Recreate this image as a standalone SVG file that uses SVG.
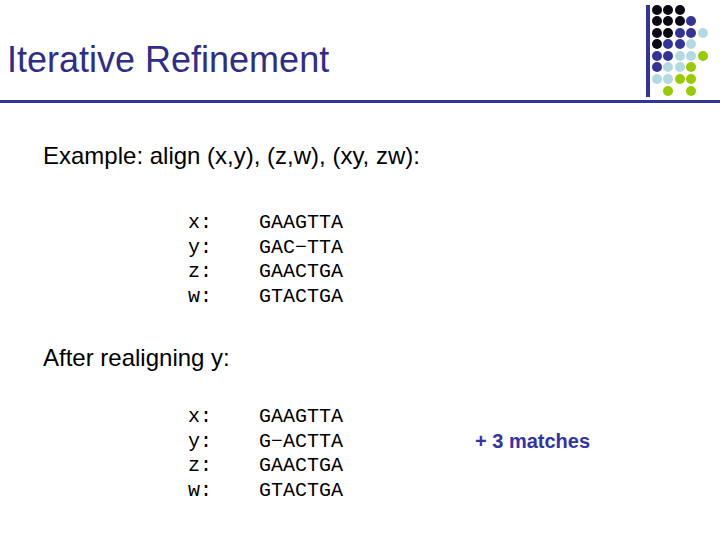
<svg xmlns="http://www.w3.org/2000/svg" width="720" height="540" viewBox="0 0 720 540">
<style>
.k{fill:#0a0a14}.n{fill:#333399}.l{fill:#b3d9e3}.g{fill:#99cc00}
.s{font-family:"Liberation Sans",Arial,sans-serif;font-size:24px;fill:#000}
.m{font-family:"Liberation Mono","Courier New",monospace;font-size:20px;fill:#000}
</style>
<rect width="720" height="540" fill="#fff"/>
<g id="logo">
<rect x="646" y="5" width="4" height="92" fill="#333399"/>
<circle class="k" cx="657" cy="10" r="5"/><circle class="k" cx="668" cy="10" r="5"/><circle class="k" cx="680" cy="10" r="5"/>
<circle class="k" cx="657" cy="21" r="5"/><circle class="k" cx="668" cy="21" r="5"/><circle class="k" cx="680" cy="21" r="5"/><circle class="n" cx="691" cy="21" r="5"/>
<circle class="k" cx="657" cy="33" r="5"/><circle class="k" cx="668" cy="33" r="5"/><circle class="n" cx="680" cy="33" r="5"/><circle class="n" cx="691" cy="33" r="5"/><circle class="l" cx="703" cy="33" r="5"/>
<circle class="k" cx="657" cy="44" r="5"/><circle class="n" cx="668" cy="44" r="5"/><circle class="n" cx="680" cy="44" r="5"/><circle class="l" cx="691" cy="44" r="5"/>
<circle class="n" cx="657" cy="56" r="5"/><circle class="n" cx="668" cy="56" r="5"/><circle class="l" cx="680" cy="56" r="5"/><circle class="l" cx="691" cy="56" r="5"/><circle class="g" cx="703" cy="56" r="5"/>
<circle class="n" cx="657" cy="67" r="5"/><circle class="l" cx="668" cy="67" r="5"/><circle class="l" cx="680" cy="67" r="5"/><circle class="g" cx="691" cy="67" r="5"/>
<circle class="l" cx="657" cy="79" r="5"/><circle class="l" cx="668" cy="79" r="5"/><circle class="g" cx="680" cy="79" r="5"/><circle class="g" cx="691" cy="79" r="5"/>
<circle class="g" cx="668" cy="91" r="5"/><circle class="g" cx="691" cy="91" r="5"/>
</g>
<rect x="0" y="100" width="720" height="3" fill="#333399"/>
<text x="7" y="72" font-family="Liberation Sans,Arial,sans-serif" font-size="36" fill="#2e2e8a">Iterative Refinement</text>
<text class="s" x="43" y="164">Example: align (x,y), (z,w), (xy, zw):</text>
<g class="m">
<text x="188" y="228">x:</text><text x="259" y="228">GAAGTTA</text>
<text x="188" y="253">y:</text><text x="259" y="253">GAC−TTA</text>
<text x="188" y="277">z:</text><text x="259" y="277">GAACTGA</text>
<text x="188" y="302">w:</text><text x="259" y="302">GTACTGA</text>
</g>
<text class="s" x="43" y="366">After realigning y:</text>
<g class="m">
<text x="188" y="422">x:</text><text x="259" y="422">GAAGTTA</text>
<text x="188" y="447">y:</text><text x="259" y="447">G−ACTTA</text>
<text x="188" y="471">z:</text><text x="259" y="471">GAACTGA</text>
<text x="188" y="496">w:</text><text x="259" y="496">GTACTGA</text>
</g>
<text x="475" y="448" font-family="Liberation Sans,Arial,sans-serif" font-size="20" font-weight="bold" fill="#3333aa">+ 3 matches</text>
</svg>
